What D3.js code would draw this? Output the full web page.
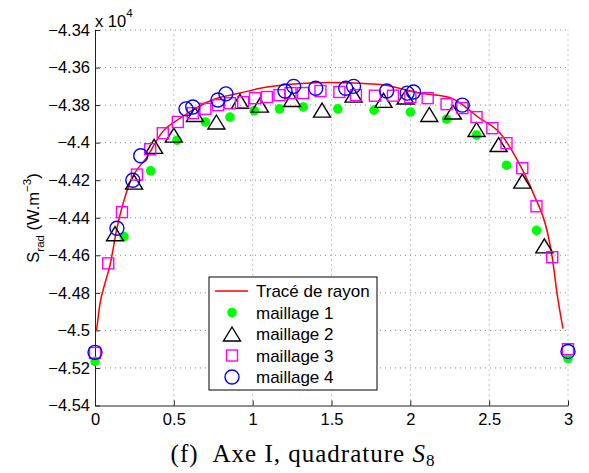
<!DOCTYPE html>
<html>
<head>
<meta charset="utf-8">
<script src="https://cdn.jsdelivr.net/npm/d3@7"></script>
<style>
  body { margin: 0; background: #fff; }
  text { font-family: "Liberation Sans", Arial, sans-serif; }
  text.caption { font-family: "Liberation Serif", "Times New Roman", serif; }
</style>
</head>
<body>
<div id="chart"></div>
<script>
/* values, y in units of 10^4 */
var xTicks = [0, 0.5, 1, 1.5, 2, 2.5, 3];
var xTickLabels = ["0", "0.5", "1", "1.5", "2", "2.5", "3"];
var yTicks = [-4.34, -4.36, -4.38, -4.4, -4.42, -4.44, -4.46, -4.48, -4.5, -4.52, -4.54];
var yTickLabels = ["\u22124.34", "\u22124.36", "\u22124.38", "\u22124.4", "\u22124.42", "\u22124.44",
                   "\u22124.46", "\u22124.48", "\u22124.5", "\u22124.52", "\u22124.54"];

var seriesNames = ["Tracé de rayon", "maillage 1", "maillage 2", "maillage 3", "maillage 4"];

// ray tracing curve
var rayX = [0.01, 0.032, 0.063, 0.095, 0.139, 0.22, 0.33, 0.43, 0.54, 0.75, 0.92, 1.05, 1.13, 1.49,
            1.81, 1.93, 2.06, 2.25, 2.44, 2.57, 2.67, 2.78, 2.87, 2.90, 2.93, 2.968];
var rayY = [-4.500, -4.4856, -4.475, -4.4653, -4.4456, -4.4216, -4.4076, -4.394, -4.387, -4.377, -4.3736, -4.371, -4.370, -4.368,
            -4.369, -4.371, -4.3736, -4.376, -4.387, -4.395, -4.408, -4.427, -4.448, -4.461, -4.480, -4.499];

var mesh1X = [0, 0.184, 0.353, 0.52, 0.70, 0.856, 1.01, 1.17, 1.32, 1.54, 1.77, 2.0, 2.23, 2.42, 2.61, 2.80, 3.0];
var mesh1Y = [-4.5165, -4.450, -4.415, -4.3987, -4.389, -4.3864, -4.383, -4.382, -4.381, -4.382, -4.3827, -4.3837,
              -4.3875, -4.396, -4.412, -4.4467, -4.515];

var mesh2X = [0.127, 0.248, 0.375, 0.50, 0.634, 0.77, 0.92, 1.046, 1.25, 1.44, 1.64, 1.83, 1.97, 2.12, 2.27,
              2.42, 2.56, 2.71, 2.85];
var mesh2Y = [-4.4485, -4.421, -4.402, -4.396, -4.385, -4.389, -4.378, -4.380, -4.377, -4.3827, -4.3747, -4.3775,
              -4.3757, -4.385, -4.3837, -4.393, -4.401, -4.4205, -4.455];

var mesh3X = [0, 0.084, 0.171, 0.266, 0.35, 0.43, 0.525, 0.62, 0.70, 0.78, 0.856, 0.94, 1.015, 1.09, 1.17, 1.24,
              1.32, 1.43, 1.55, 1.655, 1.775, 1.89, 2.0, 2.11, 2.23, 2.33, 2.42, 2.52, 2.61, 2.71, 2.80, 2.90, 3.0];
var mesh3Y = [-4.512, -4.4643, -4.437, -4.417, -4.4035, -4.395, -4.389, -4.3843, -4.382, -4.380, -4.379, -4.3784,
              -4.3763, -4.3757, -4.3747, -4.3736, -4.3736, -4.3725, -4.373, -4.3747, -4.375, -4.375, -4.3757, -4.3763,
              -4.3795, -4.3816, -4.3864, -4.3923, -4.4003, -4.4136, -4.4339, -4.461, -4.510];

var mesh4X = [0, 0.139, 0.24, 0.29, 0.577, 0.62, 0.78, 0.83, 1.205, 1.26, 1.40, 1.59, 1.64, 1.85, 1.98, 2.02, 2.33, 3.0];
var mesh4Y = [-4.5117, -4.4456, -4.42, -4.407, -4.382, -4.381, -4.3773, -4.374, -4.3725, -4.370, -4.371, -4.371,
              -4.370, -4.3725, -4.3736, -4.373, -4.380, -4.5112];

function pairs(xs, ys) {
  return xs.map(function(d, i) { return {x: d, y: ys[i]}; });
}

var width = 589, height = 473;
var margin = {top: 30, right: 21, bottom: 67.5, left: 95};

var svg = d3.select("#chart")
  .append("svg")
    .attr("width", width)
    .attr("height", height);

var x = d3.scaleLinear()
  .domain([0, 3])
  .range([margin.left, width - margin.right]);

var y = d3.scaleLinear()
  .domain([-4.54, -4.34])
  .range([height - margin.bottom, margin.top]);

// dotted grid
svg.append("g")
  .selectAll("line")
  .data(xTicks.slice(1))
  .enter()
  .append("line")
    .attr("x1", function(d) { return x(d); })
    .attr("x2", function(d) { return x(d); })
    .attr("y1", y(-4.54))
    .attr("y2", y(-4.34))
    .attr("stroke", "#8a8a8a")
    .attr("stroke-width", 1)
    .attr("stroke-dasharray", "1,4");

svg.append("g")
  .selectAll("line")
  .data(yTicks.slice(0, -1))
  .enter()
  .append("line")
    .attr("x1", x(0))
    .attr("x2", x(3))
    .attr("y1", function(d) { return y(d); })
    .attr("y2", function(d) { return y(d); })
    .attr("stroke", "#8a8a8a")
    .attr("stroke-width", 1)
    .attr("stroke-dasharray", "1,4");

// axes
var xAxis = svg.append("g")
  .attr("transform", "translate(0," + y(-4.54) + ")")
  .call(d3.axisBottom(x)
    .tickValues(xTicks)
    .tickFormat(function(d, i) { return xTickLabels[i]; })
    .tickSizeInner(-5)
    .tickSizeOuter(0)
    .tickPadding(8));

var yAxis = svg.append("g")
  .attr("transform", "translate(" + x(0) + ",0)")
  .call(d3.axisLeft(y)
    .tickValues(yTicks)
    .tickFormat(function(d, i) { return yTickLabels[i]; })
    .tickSizeInner(-5)
    .tickSizeOuter(0)
    .tickPadding(5));

svg.selectAll(".tick text")
  .attr("font-size", 16.5)
  .attr("fill", "#000");
svg.selectAll(".domain, .tick line").attr("stroke", "#222");

// exponent
var expo = svg.append("text")
  .attr("x", 95)
  .attr("y", 27)
  .attr("font-size", 16.5);
expo.append("tspan").text("x 10");
expo.append("tspan").attr("font-size", 11.5).attr("dy", -10).text("4");

// y label
var ylab = svg.append("text")
  .attr("transform", "translate(39,218) rotate(-90)")
  .attr("text-anchor", "middle")
  .attr("font-size", 16.5);
ylab.append("tspan").text("S");
ylab.append("tspan").attr("font-size", 11.5).attr("dy", 5).text("rad");
ylab.append("tspan").attr("dy", -5).text(" (W.m");
ylab.append("tspan").attr("font-size", 11.5).attr("dy", -8).text("\u22123");
ylab.append("tspan").attr("dy", 8).text(")");

// ray tracing line
var line = d3.line()
  .x(function(d) { return x(d.x); })
  .y(function(d) { return y(d.y); })
  .curve(d3.curveMonotoneX);

svg.append("path")
  .datum(pairs(rayX, rayY))
  .attr("d", line)
  .attr("fill", "none")
  .attr("stroke", "#ff0000")
  .attr("stroke-width", 1.5);

var triPath = "M0,-7L8.5,7L-8.5,7Z";

function drawDots(g, data) {
  g.selectAll("circle").data(data).enter().append("circle")
    .attr("cx", function(d) { return x(d.x); })
    .attr("cy", function(d) { return y(d.y); })
    .attr("r", 4.8)
    .attr("fill", "#00ff00");
}
function drawTriangles(g, data) {
  g.selectAll("path").data(data).enter().append("path")
    .attr("d", triPath)
    .attr("transform", function(d) { return "translate(" + x(d.x) + "," + y(d.y) + ")"; })
    .attr("fill", "none")
    .attr("stroke", "#000")
    .attr("stroke-width", 1.4);
}
function drawSquares(g, data) {
  g.selectAll("rect").data(data).enter().append("rect")
    .attr("x", function(d) { return x(d.x) - 5.5; })
    .attr("y", function(d) { return y(d.y) - 5.5; })
    .attr("width", 11)
    .attr("height", 11)
    .attr("fill", "none")
    .attr("stroke", "#ff00ff")
    .attr("stroke-width", 1.4);
}
function drawCircles(g, data) {
  g.selectAll("circle").data(data).enter().append("circle")
    .attr("cx", function(d) { return x(d.x); })
    .attr("cy", function(d) { return y(d.y); })
    .attr("r", 7)
    .attr("fill", "none")
    .attr("stroke", "#0000ff")
    .attr("stroke-width", 1.4);
}

drawDots(svg.append("g"), pairs(mesh1X, mesh1Y));
drawTriangles(svg.append("g"), pairs(mesh2X, mesh2Y));
drawSquares(svg.append("g"), pairs(mesh3X, mesh3Y));
drawCircles(svg.append("g"), pairs(mesh4X, mesh4Y));

// legend
var legend = svg.append("g").attr("transform", "translate(209,277)");
legend.append("rect")
  .attr("width", 168)
  .attr("height", 113)
  .attr("fill", "#fff")
  .attr("stroke", "#000")
  .attr("stroke-width", 1);

var rowY = function(i) { return 14 + i * 21.5; };
legend.append("line")
  .attr("x1", 6).attr("x2", 39)
  .attr("y1", rowY(0)).attr("y2", rowY(0))
  .attr("stroke", "#ff0000").attr("stroke-width", 1.5);

var sym = legend.append("g").attr("transform", "translate(23,0)");
sym.append("circle").attr("cy", rowY(1)).attr("r", 4.8).attr("fill", "#00ff00");
sym.append("path").attr("d", triPath).attr("transform", "translate(0," + rowY(2) + ")")
  .attr("fill", "none").attr("stroke", "#000").attr("stroke-width", 1.4);
sym.append("rect").attr("x", -5.5).attr("y", rowY(3) - 5.5).attr("width", 11).attr("height", 11)
  .attr("fill", "none").attr("stroke", "#ff00ff").attr("stroke-width", 1.4);
sym.append("circle").attr("cy", rowY(4)).attr("r", 7)
  .attr("fill", "none").attr("stroke", "#0000ff").attr("stroke-width", 1.4);

legend.selectAll("text.lab")
  .data(seriesNames)
  .enter()
  .append("text")
    .attr("class", "lab")
    .attr("x", 47)
    .attr("y", function(d, i) { return rowY(i); })
    .attr("dy", "0.36em")
    .attr("font-size", 17)
    .text(function(d) { return d; });

// caption
var cap = svg.append("text")
  .attr("class", "caption")
  .attr("x", 303)
  .attr("y", 462)
  .attr("text-anchor", "middle")
  .attr("font-size", 25)
  .attr("letter-spacing", 1);
cap.append("tspan").text("(f)");
cap.append("tspan").attr("dx", 14).text("Axe I, quadrature ");
cap.append("tspan").attr("font-style", "italic").text("S");
cap.append("tspan").attr("font-size", 17).attr("dy", 4).text("8");
</script>
</body>
</html>
